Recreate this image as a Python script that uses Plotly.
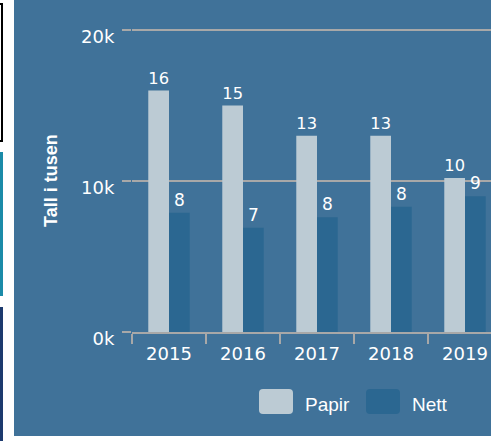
import plotly.graph_objects as go

# ---- data ----
years = ["2015", "2016", "2017", "2018", "2019"]
series_names = ["Papir", "Nett"]
papir = [16.0, 15.0, 13.0, 13.0, 10.2]   # thousands
nett = [7.9, 6.9, 7.6, 8.3, 9.0]         # thousands
y_tickvals = [0, 10, 20]
y_ticktext = ["0k", "10k", "20k"]
y_title = "Tall i tusen"

# ---- style ----
PANEL = "#407299"
PAPIR_C = "#bccbd4"
NETT_C = "#2b6791"
GRID = "#a8a8a8"
W, H = 491, 441
ML, MR, MT, MB = 132, 0, 15, 109
PW, PH = W - ML - MR, H - MT - MB


def px(x):
    return (x - ML) / PW


def py(y):
    return (H - MB - y) / PH


fig = go.Figure()
for name, vals, col in [(series_names[0], papir, PAPIR_C), (series_names[1], nett, NETT_C)]:
    fig.add_trace(go.Bar(
        x=years, y=vals, name=name, marker=dict(color=col, line=dict(width=0)),
        texttemplate="%{y:.0f}", textposition="outside",
        textfont=dict(family="DejaVu Sans", size=17, color="white"),
        outsidetextfont=dict(family="DejaVu Sans", size=17, color="white"),
        cliponaxis=False, showlegend=False,
    ))

shapes = [
    # blue panel
    dict(type="rect", xref="paper", yref="paper", x0=px(14), x1=px(W + 5), y0=py(436), y1=py(-5),
         fillcolor=PANEL, line=dict(width=0), layer="below"),
    # decorative page elements on the left
    dict(type="rect", xref="paper", yref="paper", x0=px(-60), x1=px(2), y0=py(141), y1=py(4),
         fillcolor="rgba(0,0,0,0)", line=dict(color="black", width=2), layer="above"),
    dict(type="rect", xref="paper", yref="paper", x0=px(-5), x1=px(3), y0=py(296), y1=py(152),
         fillcolor="#1b8ba8", line=dict(width=0), layer="above"),
    dict(type="rect", xref="paper", yref="paper", x0=px(-5), x1=px(3), y0=py(450), y1=py(307),
         fillcolor="#1d3a6e", line=dict(width=0), layer="above"),
]


def rounded(x0, y0, x1, y1, r):
    X0, X1 = px(x0), px(x1)
    Y0, Y1 = py(y0), py(y1)
    rx, ry = r / PW, r / PH
    return (f"M{X0+rx},{Y0} L{X1-rx},{Y0} Q{X1},{Y0} {X1},{Y0-ry} L{X1},{Y1+ry} "
            f"Q{X1},{Y1} {X1-rx},{Y1} L{X0+rx},{Y1} Q{X0},{Y1} {X0},{Y1+ry} "
            f"L{X0},{Y0-ry} Q{X0},{Y0} {X0+rx},{Y0} Z")


annotations = [
    dict(text=f"<b>{y_title}</b>", textangle=-90, x=px(51), y=py(181), xref="paper", yref="paper",
         showarrow=False, font=dict(family="Liberation Sans", size=18, color="white"),
         xanchor="center", yanchor="middle"),
]

legend_items = [(series_names[0], PAPIR_C, 259), (series_names[1], NETT_C, 366)]
for name, col, x0 in legend_items:
    shapes.append(dict(type="path", xref="paper", yref="paper", path=rounded(x0, 389, x0 + 34, 414, 4),
                       fillcolor=col, line=dict(width=0), layer="above"))
    annotations.append(dict(text=name, x=px(x0 + 44), y=py(405), xref="paper", yref="paper",
                            showarrow=False, xanchor="left", yanchor="middle",
                            font=dict(family="Liberation Sans", size=19, color="white")))

fig.update_layout(
    width=W, height=H, autosize=False,
    margin=dict(l=ML, r=MR, t=MT, b=MB, pad=0),
    paper_bgcolor="white", plot_bgcolor=PANEL,
    barmode="group", bargap=0.44, bargroupgap=0,
    shapes=shapes, annotations=annotations,
    showlegend=False,
    xaxis=dict(type="category", range=[-0.5, 4.5 - (5 * 74 - PW) / 74],
               showline=True, linecolor=GRID, linewidth=2,
               ticks="outside", tickson="boundaries", ticklen=10, tickwidth=2, tickcolor=GRID,
               ticklabelstandoff=4,
               showgrid=False, tickfont=dict(family="DejaVu Sans", size=18, color="white")),
    yaxis=dict(range=[0, 21], tickvals=y_tickvals, ticktext=y_ticktext,
               showline=False, zeroline=False, showgrid=True, gridcolor=GRID, gridwidth=2,
               ticks="outside", ticklen=9, tickwidth=2, tickcolor=GRID,
               ticklabelstandoff=4, ticklabelshift=7,
               tickfont=dict(family="DejaVu Sans", size=18, color="white")),
)

fig.write_html(
    "out.html",
    config={"displayModeBar": False},
    post_script="document.body.style.margin='0px';document.body.style.overflow='hidden';",
)
